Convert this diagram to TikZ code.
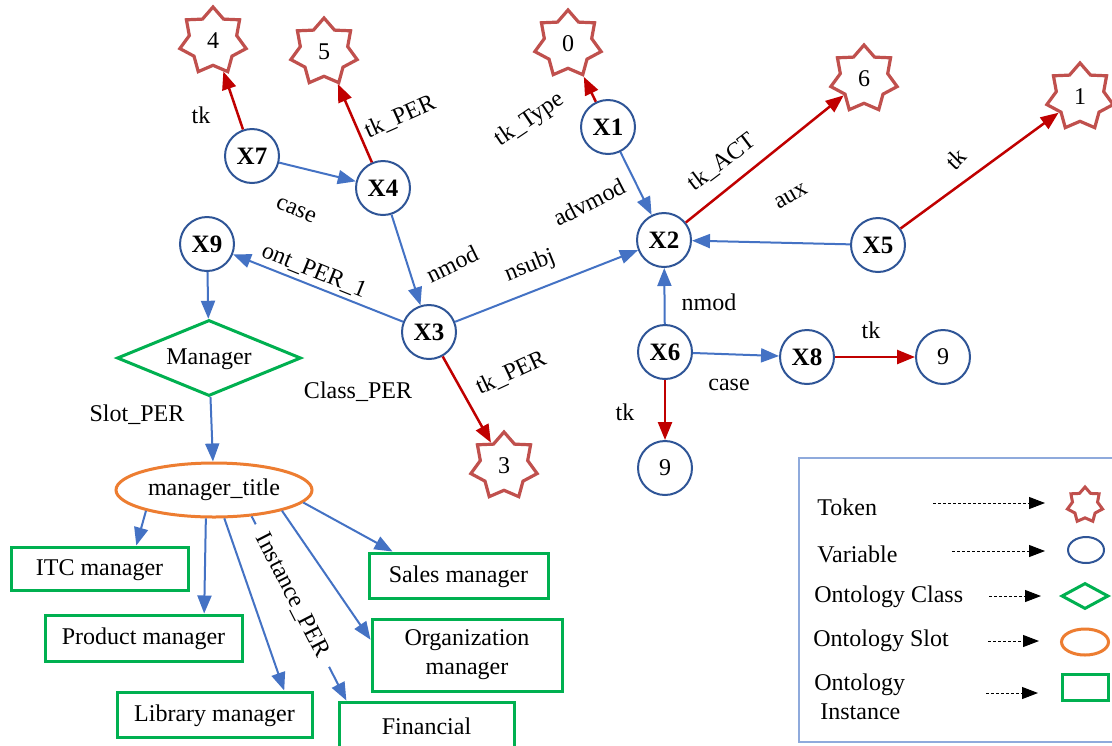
\documentclass[tikz,border=0pt]{standalone}
\usepackage{fontspec}
\setmainfont{Liberation Serif}
\usetikzlibrary{shapes.geometric}
\usetikzlibrary{arrows.meta}

\definecolor{varblue}{RGB}{47,85,151}
\definecolor{edgeblue}{RGB}{68,114,196}
\definecolor{tkred}{RGB}{192,0,0}
\definecolor{starred}{RGB}{192,80,77}
\definecolor{ontgreen}{RGB}{0,176,80}
\definecolor{slotorange}{RGB}{237,125,49}
\definecolor{framebl}{RGB}{143,170,220}

\begin{document}
\begin{tikzpicture}[x=0.5pt, y=-0.5pt,
    every node/.style={font=\fontsize{12}{14.5}\selectfont},
    var/.style={circle, draw=varblue, line width=1pt, fill=white, minimum size=27pt, inner sep=0pt, font=\fontsize{12.5}{14.5}\selectfont\bfseries},
    num/.style={var, font=\fontsize{12}{14.5}\selectfont},
    tok/.style={star, star points=7, star point ratio=1.4, draw=starred, line width=1.6pt, fill=white, minimum size=34pt, inner sep=0pt},
    inst/.style={rectangle, draw=ontgreen, line width=1.5pt, fill=white, inner sep=0pt},
    low/.style={text height=0.95em},
    lbl/.style={inner sep=1pt},
    blueedge/.style={draw=edgeblue, line width=1pt, -{Triangle[length=9pt, width=7pt]}},
    rededge/.style={draw=tkred, line width=1.25pt, -{Triangle[length=9pt, width=7pt]}},
    legarrow/.style={draw=black, line width=0.5pt, dash pattern=on 1.5pt off 1pt, -{Triangle[length=8pt, width=6pt]}}]

        % Fix the page to the picture size
        \useasboundingbox (0,0) rectangle (1112,745);
        \fill[white] (0,0) rectangle (1112,745);

        % Draw the token stars
        \node[tok] (t4) at (213,41) {4};
        \node[tok] (t5) at (324,52) {5};
        \node[tok] (t0) at (568,44) {0};
        \node[tok] (t6) at (864,79) {6};
        \node[tok] (t1) at (1080,97) {1};
        \node[tok] (t3) at (504,466) {3};

        % Draw the variables
        \node[var] (x7) at (252,156) {X7};
        \node[var] (x4) at (383,188) {X4};
        \node[var] (x1) at (608,127) {X1};
        \node[var] (x2) at (664,240) {X2};
        \node[var] (x5) at (878,245) {X5};
        \node[var] (x9) at (207,244) {X9};
        \node[var] (x3) at (429,332) {X3};
        \node[var] (x6) at (665,352) {X6};
        \node[var] (x8) at (807,357) {X8};
        \node[num] (n9r) at (943,357) {9};
        \node[num] (n9b) at (665,468) {9};

        % Ontology class, slot and instances
        \node[diamond, aspect=2.4, draw=ontgreen, line width=1.5pt, fill=white, minimum width=92pt, minimum height=38pt, inner sep=0pt, low] (mgr) at (209,358) {Manager};
        \node[ellipse, draw=slotorange, line width=1.5pt, fill=white, minimum width=98pt, minimum height=27pt, inner sep=0pt] (title) at (214,490) {manager\_title};
        \node[inst, low, minimum width=88.5pt, minimum height=21.5pt] (itc) at (99.5,568.5) {ITC manager};
        \node[inst, low, minimum width=98.5pt, minimum height=23pt] (prod) at (143.5,638) {Product manager};
        \node[inst, low, minimum width=97.5pt, minimum height=22.5pt] (lib) at (214.5,714.5) {Library manager};
        \node[inst, low, minimum width=87.5pt, minimum height=23pt] (fin) at (426.5,725) {Financial};
        \node[inst, low, minimum width=89.5pt, minimum height=22.5pt] (sales) at (458.5,575.5) {Sales manager};
        \node[inst, minimum width=95pt, minimum height=36pt, align=center] (org) at (467,655) {Organization\\manager};

        % Edges of the graph
        \draw[rededge] (x7) -- (t4);
        \draw[rededge] (x4) -- (t5);
        \draw[blueedge] (x7) -- (x4);
        \draw[blueedge] (x4) -- (x3);
        \draw[blueedge] (x3) -- (x9);
        \draw[blueedge] (x3) -- (x2);
        \draw[rededge] (x3) -- (t3);
        \draw[rededge] (x1) -- (t0);
        \draw[blueedge] (x1) -- (x2);
        \draw[rededge] (x2) -- (t6);
        \draw[blueedge] (x5) -- (x2);
        \draw[rededge] (x5) -- (t1);
        \draw[blueedge] (x6) -- (x2);
        \draw[blueedge] (x6) -- (x8);
        \draw[rededge] (x8) -- (n9r);
        \draw[rededge] (x6) -- (n9b);
        \draw[blueedge] (x9) -- (mgr);
        \draw[blueedge] (mgr) -- (title);
        \draw[blueedge] (title.197) -- (itc.32);
        \draw[blueedge] (title.254) -- (prod.22);
        \draw[blueedge] (title.290) -- (lib.19);
        \draw[blueedge] (title.343) -- (org.171);
        \draw[blueedge] (title.352) -- (sales.160);
        \draw[blueedge] (title.325) -- (fin.163) node[lbl, pos=0.43, sloped, fill=white, inner xsep=6pt, inner ysep=3pt] (lip) {Instance\_PER};

        % Edge labels
        \node[lbl] (l1) at (201,115) {tk};
        \node[lbl, rotate=24] (l2) at (400,117) {tk\_PER};
        \node[lbl, rotate=-23] (l3) at (296,210) {case};
        \node[lbl, rotate=26] (l4) at (452,264) {nmod};
        \node[lbl, rotate=-22] (l5) at (314,271) {ont\_PER\_1};
        \node[lbl, rotate=22] (l6) at (530,266) {nsubj};
        \node[lbl, rotate=25] (l7) at (511,373) {tk\_PER};
        \node[lbl] (l8) at (358,392) {Class\_PER};
        \node[lbl] (l9) at (137,415) {Slot\_PER};
        \node[lbl, rotate=34] (l10) at (530,120) {tk\_Type};
        \node[lbl, rotate=27] (l11) at (589,202) {advmod};
        \node[lbl, rotate=37] (l12) at (722,162) {tk\_ACT};
        \node[lbl, rotate=30] (l13) at (791,196) {aux};
        \node[lbl, rotate=45] (l14) at (956,159) {tk};
        \node[lbl] (l15) at (709,302) {nmod};
        \node[lbl] (l16) at (729,385) {case};
        \node[lbl] (l17) at (625,412) {tk};
        \node[lbl] (l18) at (871,330) {tk};

        % Legend
        \draw[framebl, line width=0.6pt] (799,458) rectangle (1116,742);
        \node[anchor=west, inner sep=0pt] (ltok) at (817,507) {Token};
        \node[anchor=west, inner sep=0pt] (lvar) at (817,554) {Variable};
        \node[anchor=west, inner sep=0pt] (lcls) at (814,597) {Ontology Class};
        \node[anchor=west, inner sep=0pt] (lslot) at (813,641) {Ontology Slot};
        \node[anchor=west, inner sep=0pt, align=left] (linst) at (814,697) {Ontology\\\hspace*{3pt}Instance};

        \node[tok, minimum size=18pt, line width=1.5pt] (stok) at (1085,505) {};
        \node[ellipse, draw=varblue, line width=1pt, minimum width=18pt, minimum height=13pt, inner sep=0pt] (svar) at (1086,550) {};
        \node[diamond, draw=ontgreen, line width=1.5pt, minimum width=23.5pt, minimum height=13pt, inner sep=0pt] (scls) at (1085,596) {};
        \node[ellipse, draw=slotorange, line width=1.5pt, minimum width=23.5pt, minimum height=13pt, inner sep=0pt] (sslot) at (1085,642) {};
        \node[inst, minimum width=23pt, minimum height=13pt] (sinst) at (1085,687) {};

        \foreach \name/\ya/\xa/\xb in {tok/503/933/1045, var/551/952/1045, cls/596/989/1041, slot/641/988/1039, inst/693/986/1038}
        {
          % Dashed pointer from the legend text to its shape
          \coordinate (a\name) at (\xa,\ya);
          \coordinate (b\name) at (\xb,\ya);
          \draw[legarrow] (a\name) -- (b\name);
        }
      \end{tikzpicture}
\end{document}
